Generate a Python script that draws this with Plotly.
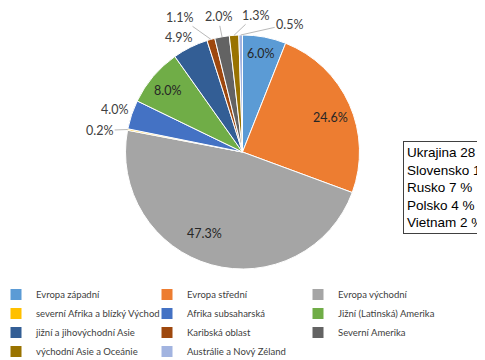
import math
import plotly.graph_objects as go

regions = ["Evropa západní", "Evropa střední", "Evropa východní",
           "severní Afrika a blízký Východ", "Afrika subsaharská", "Jižní (Latinská) Amerika",
           "jižní a jihovýchodní Asie", "Karibská oblast", "Severní Amerika",
           "východní Asie a Oceánie", "Austrálie a Nový Zéland"]
shares = [6.0, 24.6, 47.3, 0.2, 4.0, 8.0, 4.9, 1.1, 2.0, 1.3, 0.5]
box_lines = ["Ukrajina 28 %", "Slovensko 15 %", "Rusko 7 %", "Polsko 4 %", "Vietnam 2 %"]

# styling
colors = ["#5B9BD5", "#ED7D31", "#A5A5A5", "#FFC000", "#4472C4", "#70AD47",
          "#335E95", "#9E480E", "#636363", "#997300", "#A2B4E0"]
inside = [True, True, True, False, False, True, False, False, False, False, False]
# label nudges in px (dx, dy, leader line?)
nudges = {0: (0, -4, False), 1: (0, 5, False), 2: (-12, -11, False), 5: (-2, 1, False),
          3: (-28, 1, True), 4: (-17, -5, False), 6: (-12, -10, False),
          7: (-31, -22, True), 8: (-4, -20, True), 9: (21, -20, True), 10: (49, -11, True)}

OFF = 8  # page body margin
W, H = 485 - OFF, 360 - OFF
B = 80   # bottom margin holding the legend
HP = H - B
cx, cy, r = 242.5 - OFF, 152 - OFF, 117


def px(x):
    return x / W


def py(y):
    return 1 - y / HP


fig = go.Figure(go.Pie(
    labels=regions, values=shares, sort=False, direction="clockwise", rotation=0,
    marker=dict(colors=colors, line=dict(color="white", width=1)),
    textinfo="none",
    domain=dict(x=[px(cx - r), px(cx + r)], y=[py(cy + r), py(cy - r)]),
    hoverinfo="label+percent",
))

total = sum(shares)
cum = 0.0
for i, v in enumerate(shares):
    mid = cum + v / 2
    cum += v
    th = 2 * math.pi * mid / total
    dx, dy, line = nudges[i]
    rr = 0.82 * r if inside[i] else r
    color = "#262626" if inside[i] else "#404040"
    common = dict(text=f"{v:.1f}%", xref="paper", yref="paper",
                  x=px(cx + rr * math.sin(th)), y=py(cy - rr * math.cos(th)),
                  font=dict(family="Lato, sans-serif", size=12.5, color=color))
    if line:
        fig.add_annotation(**common, showarrow=True, ax=dx, ay=dy, arrowhead=0,
                           arrowwidth=0.8, arrowcolor="#A6A6A6", standoff=0)
    else:
        fig.add_annotation(**common, showarrow=False, xshift=dx, yshift=-dy,
                           xanchor="center", yanchor="middle")

fig.add_annotation(
    x=px(403 - OFF), y=py(141 - OFF), xref="paper", yref="paper", xanchor="left", yanchor="top",
    text="<br>".join(box_lines), align="left", showarrow=False,
    font=dict(family="Liberation Sans, Arial, sans-serif", size=13.5, color="black"),
    bordercolor="#404040", borderwidth=1, borderpad=3, bgcolor="white",
)

fig.update_layout(
    width=W, height=H, margin=dict(l=0, r=0, t=0, b=B, autoexpand=False),
    paper_bgcolor="white", plot_bgcolor="white",
    showlegend=True,
    legend=dict(orientation="h", x=-12 / W, y=py(280 - OFF), xanchor="left", yanchor="top",
                entrywidth=106, entrywidthmode="pixels", traceorder="normal",
                font=dict(family="Lato, sans-serif", size=9.5, color="#404040"),
                itemwidth=30, bgcolor="rgba(0,0,0,0)"),
)

fig.write_html("out.html")
